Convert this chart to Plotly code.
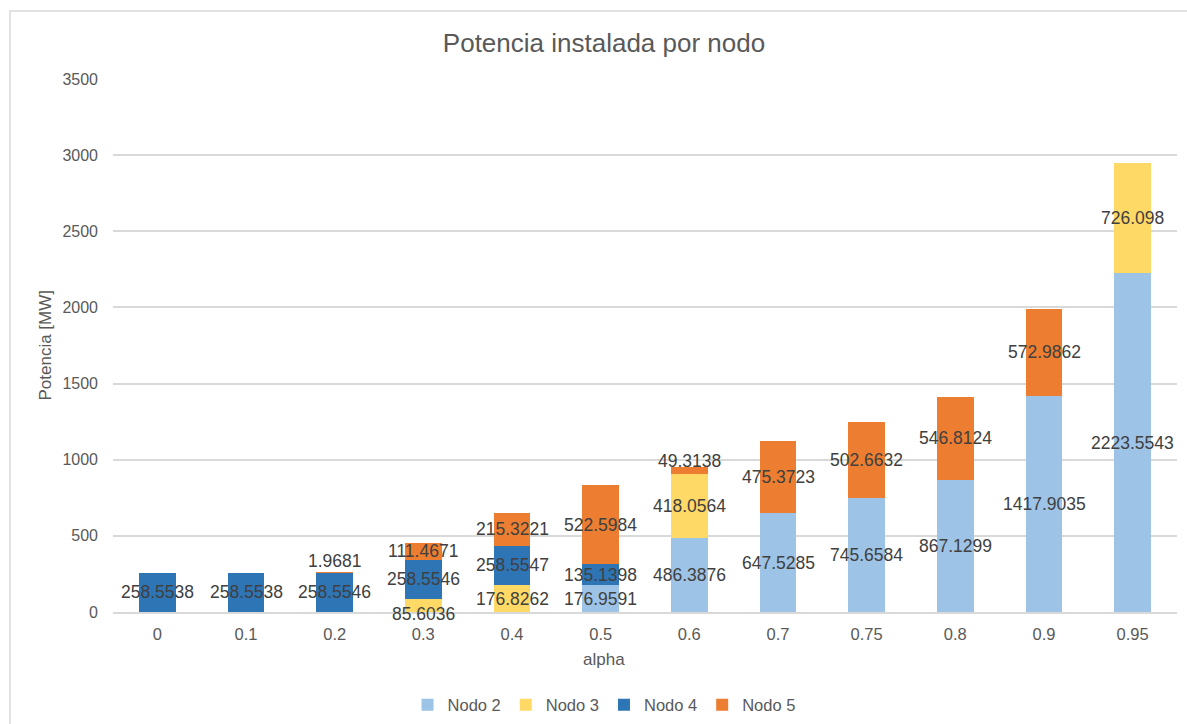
import plotly.graph_objects as go

# Installed capacity per node for each alpha value (MW); None = no capacity
alpha = ["0", "0.1", "0.2", "0.3", "0.4", "0.5", "0.6", "0.7", "0.75", "0.8", "0.9", "0.95"]
nodo2 = [None, None, None, None, None, 176.9591, 486.3876, 647.5285, 745.6584, 867.1299, 1417.9035, 2223.5543]
nodo3 = [None, None, None, 85.6036, 176.8262, None, 418.0564, None, None, None, None, 726.098]
nodo4 = [258.5538, 258.5538, 258.5546, 258.5546, 258.5547, 135.1398, None, None, None, None, None, None]
nodo5 = [None, None, 1.9681, 111.4671, 215.3221, 522.5984, 49.3138, 475.3723, 502.6632, 546.8124, 572.9862, None]

series = [
    ("Nodo 2", nodo2, "#9DC3E6"),
    ("Nodo 3", nodo3, "#FFD966"),
    ("Nodo 4", nodo4, "#2E75B6"),
    ("Nodo 5", nodo5, "#ED7D31"),
]

# small vertical nudges (px) so labels of thin segments don't collide
label_nudge = {("0.2", "Nodo 5"): 11, ("0.3", "Nodo 3"): -9, ("0.6", "Nodo 5"): 10}

FONT = "Liberation Sans, Arial, sans-serif"
GREY = "#595959"

fig = go.Figure()
annotations = []
base = [0.0] * len(alpha)
for name, vals, color in series:
    fig.add_trace(go.Bar(
        x=alpha, y=[v if v is not None else 0 for v in vals], name=name,
        marker=dict(color=color, line=dict(width=0)),
        hoverinfo="x+y+name",
    ))
    for i, v in enumerate(vals):
        if v is None:
            continue
        # category axis: annotation x given as category index
        annotations.append(dict(
            x=i, y=base[i] + v / 2, xref="x", yref="y",
            text=str(v), showarrow=False,
            yshift=label_nudge.get((alpha[i], name), 0),
            font=dict(family=FONT, size=17.5, color="#404040"),
        ))
        base[i] += v

# axis titles
annotations.append(dict(x=0.4615, y=-0.09, xref="paper", yref="paper", text="alpha",
                        xanchor="center", yanchor="middle", showarrow=False,
                        font=dict(family=FONT, size=17, color=GREY)))
annotations.append(dict(x=-0.0639, y=0.5, xref="paper", yref="paper", text="Potencia [MW]",
                        textangle=-90, xanchor="center", yanchor="middle", showarrow=False,
                        font=dict(family=FONT, size=17, color=GREY)))

fig.update_layout(
    width=1187, height=724,
    margin=dict(l=113, r=10, t=79, b=112, autoexpand=False),
    paper_bgcolor="white", plot_bgcolor="white",
    barmode="stack", bargap=0.59,
    font=dict(family=FONT, color=GREY),
    title=dict(text="Potencia instalada por nodo", x=0.4615, xref="paper", xanchor="center",
               y=1 - 43 / 724, yref="container", yanchor="middle",
               font=dict(family=FONT, size=26, color=GREY)),
    xaxis=dict(type="category", showgrid=False, showline=True, linecolor="#D9D9D9", linewidth=1.5,
               ticks="", ticklabelstandoff=6, tickfont=dict(family=FONT, size=16.5, color=GREY),
               zeroline=False),
    yaxis=dict(range=[0, 3500], dtick=500, showgrid=True, gridcolor="#D9D9D9", gridwidth=1.5,
               zeroline=False, showline=False, ticks="", ticklabelstandoff=14,
               tickfont=dict(family=FONT, size=16, color=GREY)),
    legend=dict(orientation="h", x=0.4615, xanchor="center", y=1 - 705 / 724, yref="container",
                yanchor="middle", traceorder="normal", itemwidth=30,
                font=dict(family=FONT, size=16.5, color=GREY)),
    annotations=annotations,
    shapes=[dict(type="rect", xref="paper", yref="paper", x0=-0.0968, x1=1.2, y0=-0.4, y1=1.1276,
                 line=dict(color="#D9D9D9", width=1.5), fillcolor="rgba(0,0,0,0)", layer="below")],
)

fig.write_html("out.html")
